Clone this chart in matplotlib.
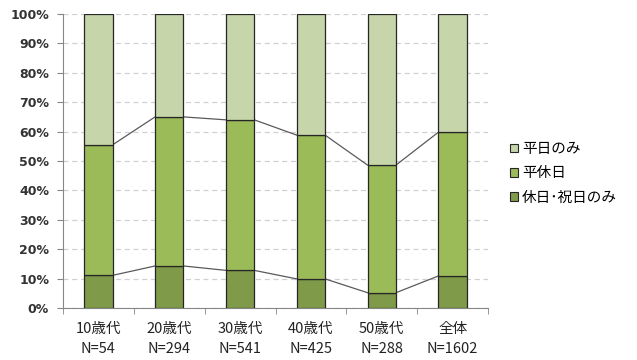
import matplotlib
matplotlib.use("Agg")
import matplotlib.pyplot as plt
import numpy as np
from matplotlib.patches import Patch

plt.rcParams['font.family'] = ['Noto Sans CJK JP', 'DejaVu Sans']

# 年代別の利用日（%）
groups = ["10歳代", "20歳代", "30歳代", "40歳代", "50歳代", "全体"]
sizes = ["N=54", "N=294", "N=541", "N=425", "N=288", "N=1602"]
holiday_only = [11.1, 14.3, 12.8, 9.9, 5.2, 10.9]
both_days = [44.4, 50.7, 51.2, 48.9, 43.4, 48.9]
weekday_only = [100 - a - b for a, b in zip(holiday_only, both_days)]

series_names = ["休日･祝日のみ", "平休日", "平日のみ"]
colors = ["#7f9a48", "#9bbb59", "#c6d6aa"]

fig = plt.figure(figsize=(6.37, 3.6), dpi=100)
ax = fig.add_axes([63 / 637, 52 / 360, 425 / 637, 294 / 360])

x = np.arange(len(groups))
w = 0.4
bottom = np.zeros(len(groups))
tops = []
for vals, c in zip([holiday_only, both_days, weekday_only], colors):
    vals = np.array(vals)
    ax.bar(x, vals, w, bottom=bottom, color=c, edgecolor="#262626",
           linewidth=0.9, zorder=3)
    bottom = bottom + vals
    tops.append(bottom.copy())

# series lines between neighbouring bars
for lvl in tops[:2]:
    for i in range(len(groups) - 1):
        ax.plot([x[i] + w / 2, x[i + 1] - w / 2], [lvl[i], lvl[i + 1]],
                color="#5a5a5a", linewidth=0.9, zorder=2)

ax.set_xlim(-0.5, len(groups) - 0.5)
ax.set_ylim(0, 100)
ax.set_yticks(np.arange(0, 101, 10))
ax.set_yticklabels([f"{v}%" for v in range(0, 101, 10)], fontsize=9,
                   color="#333333", fontweight="bold", family=["DejaVu Sans"])
ax.yaxis.grid(True, linestyle=(0, (4, 3)), color="#d0d0d0", linewidth=0.9)
ax.set_axisbelow(True)

ax.set_xticks(x)
ax.set_xticklabels([f"{g}\n{n}" for g, n in zip(groups, sizes)],
                   fontsize=10.5, color="#222222", linespacing=1.6)
ax.tick_params(axis="x", length=0, pad=10)
ax.set_xticks(np.arange(-0.5, len(groups)), minor=True)
ax.tick_params(axis="x", which="minor", length=4, color="#868686")
ax.tick_params(axis="y", length=4, color="#868686", pad=6)

for s in ["top", "right"]:
    ax.spines[s].set_visible(False)
for s in ["left", "bottom"]:
    ax.spines[s].set_color("#868686")

handles = [Patch(facecolor=c, edgecolor="#262626", linewidth=0.8) for c in colors[::-1]]
fig.legend(handles, series_names[::-1], loc="upper left",
           bbox_to_anchor=(497 / 637, 1 - 129 / 360), frameon=False,
           fontsize=10.5, handlelength=0.55, handleheight=0.55,
           handletextpad=0.25, labelspacing=0.7)

fig.savefig("out.png", dpi=100)
